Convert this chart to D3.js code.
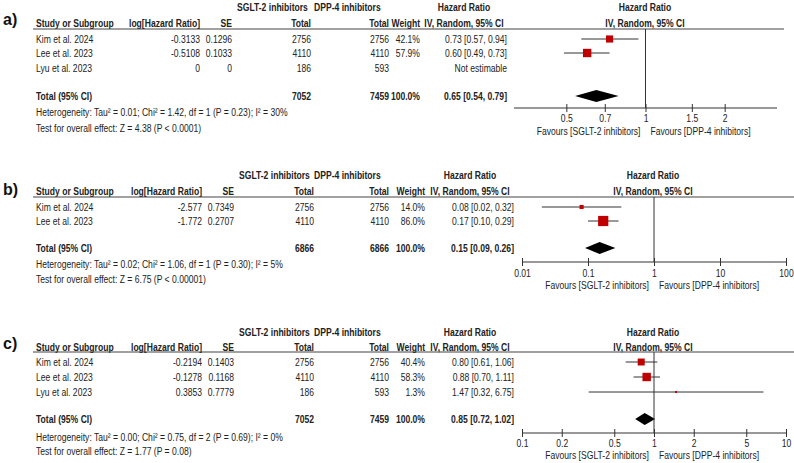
<!DOCTYPE html>
<html><head><meta charset="utf-8">
<script src="https://cdn.jsdelivr.net/npm/d3@7"></script>
<style>
html,body{margin:0;padding:0;background:#fff;}
svg text{font-family:"Liberation Sans",Arial,sans-serif;font-size:11px;fill:#222;}
</style></head>
<body><svg id="chart" width="794" height="463"></svg>
<script>
// ---------- DATA ----------
const groupLabels = ["SGLT-2 inhibitors", "DPP-4 inhibitors"];
const favourLabels = ["Favours [SGLT-2 inhibitors]", "Favours [DPP-4 inhibitors]"];

// Panel a
const studiesA = ["Kim et al. 2024", "Lee et al. 2023", "Lyu et al. 2023"];
const logHRA = ["-0.3133", "-0.5108", "0"];
const seA = ["0.1296", "0.1033", "0"];
const sgltTotalA = [2756, 4110, 186];
const dppTotalA = [2756, 4110, 593];
const weightA = [42.1, 57.9, null];
const hrA = [0.73, 0.60, null];
const lowA = [0.57, 0.49, null];
const highA = [0.94, 0.73, null];
const totalA = {sglt: 7052, dpp: 7459, hr: 0.65, low: 0.54, high: 0.79};
const heteroA = "Heterogeneity: Tau² = 0.01; Chi² = 1.42, df = 1 (P = 0.23); I² = 30%";
const effectA = "Test for overall effect: Z = 4.38 (P < 0.0001)";
const ticksA = [0.5, 0.7, 1, 1.5, 2];
const tickLabelsA = ["0.5", "0.7", "1", "1.5", "2"];
const domainA = [0.3162, 3.162];

// Panel b
const studiesB = ["Kim et al. 2024", "Lee et al. 2023"];
const logHRB = ["-2.577", "-1.772"];
const seB = ["0.7349", "0.2707"];
const sgltTotalB = [2756, 4110];
const dppTotalB = [2756, 4110];
const weightB = [14.0, 86.0];
const hrB = [0.08, 0.17];
const lowB = [0.02, 0.10];
const highB = [0.32, 0.29];
const totalB = {sglt: 6866, dpp: 6866, hr: 0.15, low: 0.09, high: 0.26};
const heteroB = "Heterogeneity: Tau² = 0.02; Chi² = 1.06, df = 1 (P = 0.30); I² = 5%";
const effectB = "Test for overall effect: Z = 6.75 (P < 0.00001)";
const ticksB = [0.01, 0.1, 1, 10, 100];
const tickLabelsB = ["0.01", "0.1", "1", "10", "100"];
const domainB = [0.01, 100];

// Panel c
const studiesC = ["Kim et al. 2024", "Lee et al. 2023", "Lyu et al. 2023"];
const logHRC = ["-0.2194", "-0.1278", "0.3853"];
const seC = ["0.1403", "0.1168", "0.7779"];
const sgltTotalC = [2756, 4110, 186];
const dppTotalC = [2756, 4110, 593];
const weightC = [40.4, 58.3, 1.3];
const hrC = [0.80, 0.88, 1.47];
const lowC = [0.61, 0.70, 0.32];
const highC = [1.06, 1.11, 6.75];
const totalC = {sglt: 7052, dpp: 7459, hr: 0.85, low: 0.72, high: 1.02};
const heteroC = "Heterogeneity: Tau² = 0.00; Chi² = 0.75, df = 2 (P = 0.69); I² = 0%";
const effectC = "Test for overall effect: Z = 1.77 (P = 0.08)";
const ticksC = [0.1, 0.2, 0.5, 1, 2, 5, 10];
const tickLabelsC = ["0.1", "0.2", "0.5", "1", "2", "5", "10"];
const domainC = [0.1, 10];

// ---------- DRAW ----------
const svg = d3.select("#chart");
const sizeScale = d3.scaleSqrt().domain([0, 100]).range([0, 11]);
const fmt2 = d3.format(".2f");
const fmtW = d3.format(".1f");
const SX = 0.78; // horizontal condensation (narrow font look)

function drawPanel(p) {
  const g = svg.append("g");
  const T = (x, y, s, anchor, bold, size) => g.append("text")
    .attr("transform", `translate(${x},${y}) scale(${size ? 1 : SX},1)`)
    .attr("dy", "0.35em")
    .attr("text-anchor", anchor || "start")
    .style("font-weight", bold ? "bold" : "normal")
    .style("font-size", size ? size + "px" : null)
    .text(s);
  const L = p.layout;
  // panel label
  T(3, L.label, p.letter, "start", true, 16).style("fill", "#111");
  // headers
  T(L.grp1, L.h1, groupLabels[0], "start", true);
  T(L.grp2, L.h1, groupLabels[1], "start", true);
  T(L.hrHead, L.h1, "Hazard Ratio", "middle", true);
  T(L.one, L.h1, "Hazard Ratio", "middle", true);
  T(36, L.h2, "Study or Subgroup", "start", true);
  T(L.logCol, L.h2, "log[Hazard Ratio]", "end", true);
  T(L.seCol, L.h2, "SE", "end", true);
  T(L.t1Col, L.h2, "Total", "end", true);
  T(389, L.h2, "Total", "end", true);
  T(L.wCol, L.h2, "Weight", "end", true);
  T(L.hrHead, L.h2, "IV, Random, 95% CI", "middle", true);
  T(L.one, L.h2, "IV, Random, 95% CI", "middle", true);
  g.append("line").attr("x1", 33).attr("x2", L.lineEnd).attr("y1", L.line).attr("y2", L.line)
    .attr("stroke", "#444").attr("stroke-width", 1.2);

  const x = d3.scaleLog().domain(p.domain).range([L.ax0, L.ax1]);

  // rows
  p.studies.forEach((s, i) => {
    const y = L.rows[i];
    T(36, y, s);
    T(L.logCol, y, p.logHR[i], "end");
    T(L.seCol, y, p.se[i], "end");
    T(L.t1Col, y, p.sglt[i], "end");
    T(389, y, p.dpp[i], "end");
    if (p.hr[i] == null) {
      T(L.hrCol, y, "Not estimable", "end");
    } else {
      T(L.wCol, y, fmtW(p.weight[i]) + "%", "end");
      T(L.hrCol, y, `${fmt2(p.hr[i])} [${fmt2(p.low[i])}, ${fmt2(p.high[i])}]`, "end");
      g.append("line").attr("x1", x(p.low[i])).attr("x2", x(p.high[i]))
        .attr("y1", y).attr("y2", y).attr("stroke", "#333").attr("stroke-width", 1);
      const sz = Math.max(2, sizeScale(p.weight[i]));
      g.append("rect").attr("x", x(p.hr[i]) - sz / 2).attr("y", y - sz / 2)
        .attr("width", sz).attr("height", sz).attr("fill", "#c00000");
    }
  });
  // total row
  const ty = L.total;
  T(36, ty, "Total (95% CI)", "start", true);
  T(L.t1Col, ty, p.total.sglt, "end", true);
  T(389, ty, p.total.dpp, "end", true);
  T(L.wCol, ty, "100.0%", "end", true);
  T(L.hrCol, ty, `${fmt2(p.total.hr)} [${fmt2(p.total.low)}, ${fmt2(p.total.high)}]`, "end", true);
  const dh = 6;
  g.append("path").attr("d", `M${x(p.total.low)},${ty} L${x(p.total.hr)},${ty - dh} L${x(p.total.high)},${ty} L${x(p.total.hr)},${ty + dh} Z`)
    .attr("fill", "#000");
  T(36, L.het, p.hetero);
  T(36, L.eff, p.effect);

  // vertical line of no effect
  g.append("line").attr("x1", x(1)).attr("x2", x(1)).attr("y1", L.line).attr("y2", L.axis)
    .attr("stroke", "#333").attr("stroke-width", 1);
  // axis
  const axis = d3.axisBottom(x).tickValues(p.ticks).tickFormat((d, i) => p.tickLabels[i]).tickSize(4).tickSizeOuter(0);
  const ag = g.append("g").attr("transform", `translate(0,${L.axis})`).call(axis);
  ag.attr("font-family", null).attr("font-size", null);
  ag.select(".domain").attr("stroke", "#333").attr("d", `M${L.ax0},0H${L.ax1}`);
  ag.selectAll(".tick line").attr("y1", -4).attr("y2", 4).attr("stroke", "#333");
  ag.selectAll(".tick text").attr("y", 0).attr("dy", "0.35em")
    .attr("transform", `translate(0,${L.tickLab - L.axis}) scale(${SX},1)`)
    .attr("fill", "#222");
  T(x(1) - 5, L.fav, favourLabels[0], "end");
  T(x(1) + 5, L.fav, favourLabels[1], "start");
}

drawPanel({
  letter: "a)", studies: studiesA, logHR: logHRA, se: seA, sglt: sgltTotalA, dpp: dppTotalA,
  weight: weightA, hr: hrA, low: lowA, high: highA, total: totalA, hetero: heteroA, effect: effectA,
  ticks: ticksA, tickLabels: tickLabelsA, domain: domainA,
  layout: {label: 19, h1: 7, h2: 23, line: 29, rows: [39, 53, 68], total: 96, het: 112, eff: 128,
    axis: 108, tickLab: 118, fav: 131, grp1: 237, grp2: 314, logCol: 200, seCol: 232, t1Col: 311,
    wCol: 420, hrCol: 507, hrHead: 464, one: 645, ax0: 514, ax1: 777, lineEnd: 784}
});
drawPanel({
  letter: "b)", studies: studiesB, logHR: logHRB, se: seB, sglt: sgltTotalB, dpp: dppTotalB,
  weight: weightB, hr: hrB, low: lowB, high: highB, total: totalB, hetero: heteroB, effect: effectB,
  ticks: ticksB, tickLabels: tickLabelsB, domain: domainB,
  layout: {label: 189, h1: 175, h2: 191, line: 197, rows: [207, 221], total: 248, het: 264, eff: 279,
    axis: 262, tickLab: 273, fav: 285, grp1: 239, grp2: 314, logCol: 202, seCol: 234, t1Col: 314,
    wCol: 425, hrCol: 514, hrHead: 470, one: 653, ax0: 522, ax1: 786, lineEnd: 794}
});
drawPanel({
  letter: "c)", studies: studiesC, logHR: logHRC, se: seC, sglt: sgltTotalC, dpp: dppTotalC,
  weight: weightC, hr: hrC, low: lowC, high: highC, total: totalC, hetero: heteroC, effect: effectC,
  ticks: ticksC, tickLabels: tickLabelsC, domain: domainC,
  layout: {label: 343, h1: 332, h2: 347, line: 352, rows: [362, 377, 392], total: 419, het: 437, eff: 451,
    axis: 433, tickLab: 443, fav: 455, grp1: 239, grp2: 314, logCol: 202, seCol: 234, t1Col: 314,
    wCol: 425, hrCol: 514, hrHead: 470, one: 653, ax0: 522, ax1: 786, lineEnd: 794}
});
</script></body></html>
